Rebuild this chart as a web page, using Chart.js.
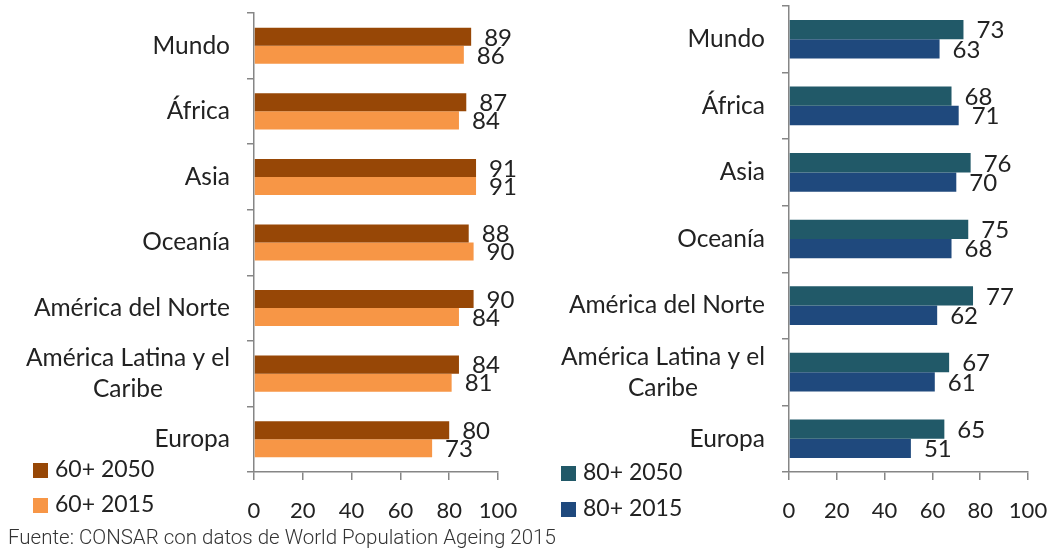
<!DOCTYPE html>
<html>
<head>
<meta charset="utf-8">
<script src="https://cdn.jsdelivr.net/npm/chart.js@4"></script>
<style>
  html, body { margin: 0; padding: 0; background: #fff; }
  body { width: 1054px; height: 552px; position: relative; overflow: hidden; font-family: Lato, sans-serif; color: #222; }
  .box { position: absolute; top: 0; }
  .leg { position: absolute; font-size: 23px; line-height: 24px; white-space: nowrap; }
  .leg i { display: inline-block; width: 15px; height: 15px; margin-right: 7px; vertical-align: -1px; }
  #foot { position: absolute; left: 8px; top: 525px; font-family: Roboto, sans-serif; font-weight: 300; font-size: 20.5px; line-height: 24px; color: #333; white-space: nowrap; }
</style>
</head>
<body>
<div class="box" style="left:0;width:530px;height:530px"><canvas id="left"></canvas></div>
<div class="box" style="left:530px;width:524px;height:530px"><canvas id="right"></canvas></div>
<div id="legLeft"></div>
<div id="legRight"></div>
<div id="foot">Fuente: CONSAR con datos de World Population Ageing 2015</div>
<script>
/* Two horizontal bar panels: share of population 60+ and 80+ by region. */
const regions = ["Mundo", "África", "Asia", "Oceanía", "América del Norte", ["América Latina y el", "Caribe"], "Europa"];
const s60_2050 = [89, 87, 91, 88, 90, 84, 80];
const s60_2015 = [86, 84, 91, 90, 84, 81, 73];
const s80_2050 = [73, 68, 76, 75, 77, 67, 65];
const s80_2015 = [63, 71, 70, 68, 62, 61, 51];
const xTicks = [0, 20, 40, 60, 80, 100];

const FONT = "Lato, sans-serif";
const $ = (id) => document.getElementById(id);

// value labels just past the end of each bar
const barLabels = {
  id: "barLabels",
  afterDatasetsDraw(chart) {
    const ctx = chart.ctx;
    ctx.save();
    ctx.font = "24px " + FONT;
    ctx.fillStyle = "#222";
    ctx.textAlign = "left";
    ctx.textBaseline = "middle";
    chart.data.datasets.forEach((ds, i) => {
      chart.getDatasetMeta(i).data.forEach((el, j) => {
        ctx.fillText(String(ds.data[j]), el.x + 13, el.y + 1);
      });
    });
    ctx.restore();
  },
};

// category labels: right-aligned block, wrapped lines centred on each other
const catLabels = {
  id: "catLabels",
  afterDraw(chart) {
    const sc = chart.scales.y;
    const ctx = chart.ctx;
    const lh = 31;
    ctx.save();
    ctx.font = "24.5px " + FONT;
    ctx.fillStyle = "#222";
    ctx.textAlign = "center";
    ctx.textBaseline = "middle";
    chart.data.labels.forEach((lab, i) => {
      const lines = [].concat(lab);
      const w = Math.max(...lines.map((l) => ctx.measureText(l).width));
      const cx = sc.right - 24 - w / 2;
      const y0 = sc.getPixelForValue(i) - ((lines.length - 1) * lh) / 2;
      lines.forEach((l, k) => ctx.fillText(l, cx, y0 + k * lh));
    });
    ctx.restore();
  },
};

function panel(id, series, colors, axisLeft, top, padRight, catPct) {
  return new Chart($(id), {
    type: "bar",
    data: {
      labels: regions,
      datasets: series.map((s, i) => ({
        label: s.label,
        data: s.data,
        backgroundColor: colors[i],
        barPercentage: 1,
        categoryPercentage: catPct,
      })),
    },
    options: {
      indexAxis: "y",
      responsive: true,
      maintainAspectRatio: false,
      animation: false,
      layout: { padding: { top: top, right: padRight, left: 0, bottom: 0 } },
      plugins: { legend: { display: false }, tooltip: { enabled: false } },
      scales: {
        x: {
          min: 0,
          max: 100,
          afterBuildTicks: (sc) => { sc.ticks = xTicks.map((v) => ({ value: v })); },
          afterFit: (sc) => { sc.height = 58; sc.paddingLeft = 0; sc.paddingRight = 0; },
          border: { color: "#868686", width: 1.5 },
          grid: { drawOnChartArea: false, drawTicks: true, tickLength: 8, color: "#868686", lineWidth: 1.5 },
          ticks: { color: "#222", font: { family: FONT, size: 22 }, padding: 18, maxRotation: 0 },
        },
        y: {
          afterFit: (sc) => { sc.width = axisLeft; sc.paddingTop = 0; sc.paddingBottom = 0; },
          border: { color: "#868686", width: 1.5 },
          grid: { drawOnChartArea: false, drawTicks: true, tickLength: 7, color: "#868686", lineWidth: 1.5 },
          ticks: { display: false, autoSkip: false },
        },
      },
    },
    plugins: [barLabels, catLabels],
  });
}

const c60 = ["#974706", "#F79646"];
const c80 = ["#215968", "#1F497D"];

panel("left", [{ label: "60+ 2050", data: s60_2050 }, { label: "60+ 2015", data: s60_2015 }], c60, 254, 13, 32, 0.55);
panel("right", [{ label: "80+ 2050", data: s80_2050 }, { label: "80+ 2015", data: s80_2015 }], c80, 259, 6, 26, 0.58);

// ---- legends ----
function legend(el, labels, colors, x, ys) {
  el.innerHTML = labels
    .map((t, i) => `<div class="leg" style="left:${x}px;top:${ys[i]}px"><i style="background:${colors[i]}"></i>${t}</div>`)
    .join("");
}
legend($("legLeft"), ["60+ 2050", "60+ 2015"], c60, 33, [456, 491]);
legend($("legRight"), ["80+ 2050", "80+ 2015"], c80, 561, [459, 495]);
</script>
</body>
</html>
